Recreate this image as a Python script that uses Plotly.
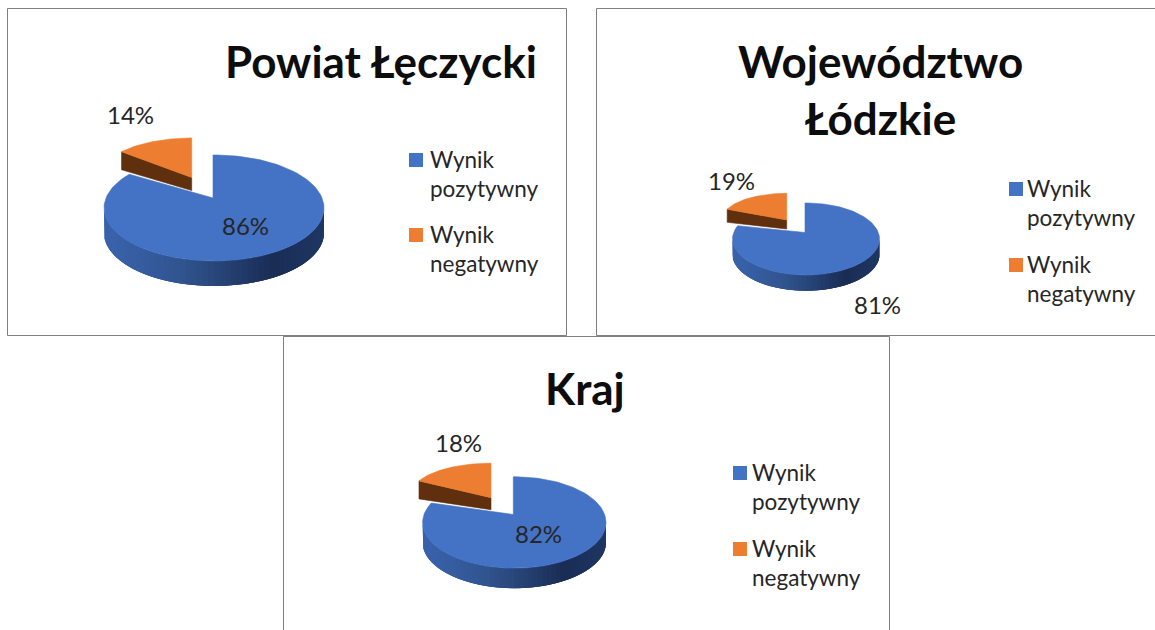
import numpy as np
import plotly.graph_objects as go

# ---- data ----
categories = ["Wynik<br>pozytywny", "Wynik<br>negatywny"]
titles = ["Powiat Łęczycki", "Województwo<br>Łódzkie", "Kraj"]
powiat_values = [86, 14]
wojewodztwo_values = [81, 19]
kraj_values = [82, 18]
series = [powiat_values, wojewodztwo_values, kraj_values]

# ---- layout of each panel (pixels of the 1155x630 page) ----
PANELS = [
    dict(box=(7.5, 8.5, 566.5, 335.5), title=(381, 61),
         blue=dict(cx=214, cy=208, rx=110, ry=53, ax=213, ay=198, d=25),
         orange=dict(cx=191.7, cy=176, rx=91, ry=38, ax=191.7, ay=177.5, d0=18, d1=13),
         lab=[(245, 225), (130, 114)], leg=(416, 428, 160, 235)),
    dict(box=(596.5, 8.5, 1160, 335.5), title=(880, 89),
         blue=dict(cx=806, cy=239, rx=73.5, ry=36, ax=805, ay=232.5, d=15.7),
         orange=dict(cx=786.7, cy=218.6, rx=64, ry=25.3, ax=786.7, ay=220, d0=13, d1=9),
         lab=[(877, 304), (731, 180)], leg=(1016, 1025, 189, 265)),
    dict(box=(283.5, 336.5, 889.5, 640), title=(585, 388),
         blue=dict(cx=514.3, cy=522.5, rx=91.7, ry=45.7, ax=513.3, ay=514.5, d=20),
         orange=dict(cx=491, cy=494, rx=79.6, ry=30.8, ax=491, ay=497.7, d0=18, d1=12),
         lab=[(538, 533), (458, 442)], leg=(740, 750, 473, 549)),
]

BLUE, ORANGE = "#4472c4", "#ed7d31"
TEXT = "#262626"
FONT = "Lato"


def mix(c0, c1, f):
    a = np.array([int(c0[i:i + 2], 16) for i in (1, 3, 5)], float)
    b = np.array([int(c1[i:i + 2], 16) for i in (1, 3, 5)], float)
    r = a + (b - a) * f
    return "rgb(%d,%d,%d)" % tuple(r)


def side_colour(f):
    # f=0 left edge, f=1 right edge of the visible rim
    stops = [(0, "#3a63ac"), (0.3, "#31558f"), (0.72, "#1a2d55"), (1, "#1f3864")]
    for (p0, c0), (p1, c1) in zip(stops, stops[1:]):
        if f <= p1:
            return mix(c0, c1, (f - p0) / (p1 - p0))
    return stops[-1][1]


def poly(x, y, colour, name=None, width=0.6):
    return go.Scatter(x=x, y=y, mode="lines", fill="toself", fillcolor=colour,
                      line=dict(color=colour, width=width), hoverinfo="skip",
                      showlegend=False, name=name)


fig = go.Figure()
annotations, shapes = [], []

for p, vals, title in zip(PANELS, series, titles):
    x0, y0, x1, y1 = p["box"]
    shapes.append(dict(type="rect", xref="x", yref="y", x0=x0, y0=y0, x1=x1, y1=y1,
                       line=dict(color="#7f7f7f", width=1), fillcolor="rgba(0,0,0,0)"))

    total = sum(vals)
    split = 2 * np.pi * vals[0] / total

    # exploded slice: rim then face
    o = p["orange"]
    t = np.linspace(split, 2 * np.pi, 40)
    ox = o["cx"] + o["rx"] * np.sin(t)
    oy = o["cy"] - o["ry"] * np.cos(t)
    fig.add_trace(poly([ox[0], o["ax"], o["ax"], ox[0], ox[0]],
                       [oy[0], o["ay"], o["ay"] + o["d1"], oy[0] + o["d0"], oy[0]],
                       "#5f2f0e"))
    fig.add_trace(poly(np.r_[o["ax"], ox, o["ax"]], np.r_[o["ay"], oy, o["ay"]], ORANGE,
                       name=categories[1]))

    # main slice: rim in shaded, overlapping strips then face
    b = p["blue"]
    edges = np.linspace(np.pi / 2, min(split, 3 * np.pi / 2), 61)
    step = edges[1] - edges[0]
    for ta, tb in zip(edges[:-1], edges[1:]):
        tt = np.linspace(max(ta - 2 * step, edges[0]), tb, 8)
        sx = b["cx"] + b["rx"] * np.sin(tt)
        sy = b["cy"] - b["ry"] * np.cos(tt)
        f = (np.sin((ta + tb) / 2) + 1) / 2
        fig.add_trace(poly(np.r_[sx, sx[::-1], sx[0]],
                           np.r_[sy, sy[::-1] + b["d"], sy[0]], side_colour(f), width=0))
    t = np.linspace(0, split, 160)
    bx = b["cx"] + b["rx"] * np.sin(t) + (b["ax"] - b["cx"]) * (t == 0)
    by = b["cy"] - b["ry"] * np.cos(t)
    fig.add_trace(poly(np.r_[b["ax"], bx, b["ax"]], np.r_[b["ay"], by, b["ay"]], BLUE,
                       name=categories[0]))

    # title
    annotations.append(dict(x=p["title"][0], y=p["title"][1], text="<b>%s</b>" % title,
                            showarrow=False, font=dict(family=FONT, size=44, color="#0d0d0d"),
                            xanchor="center", yanchor="middle", align="center"))
    # data labels
    for v, (lx, ly) in zip(vals, p["lab"]):
        annotations.append(dict(x=lx, y=ly, text="%d%%" % v, showarrow=False,
                                font=dict(family=FONT, size=24, color=TEXT),
                                xanchor="center", yanchor="middle"))
    # legend
    mx, tx, ly0, ly1 = p["leg"]
    for cat, colour, ly in zip(categories, [BLUE, ORANGE], [ly0, ly1]):
        fig.add_trace(go.Scatter(x=[mx], y=[ly], mode="markers", hoverinfo="skip", showlegend=False,
                                 marker=dict(symbol="square", size=14, color=colour, line=dict(width=0))))
        annotations.append(dict(x=tx, y=ly - 16, text=cat, showarrow=False,
                                font=dict(family=FONT, size=22.5, color=TEXT),
                                xanchor="left", yanchor="top", align="left"))

fig.update_layout(
    width=1155, height=630, margin=dict(l=0, r=0, t=0, b=0),
    paper_bgcolor="white", plot_bgcolor="white", showlegend=False,
    xaxis=dict(range=[0, 1155], visible=False, fixedrange=True),
    yaxis=dict(range=[630, 0], visible=False, fixedrange=True),
    annotations=annotations, shapes=shapes,
)
fig.write_html("out.html", config=dict(displayModeBar=False),
               post_script="document.body.style.margin='0';document.body.style.overflow='hidden';")
